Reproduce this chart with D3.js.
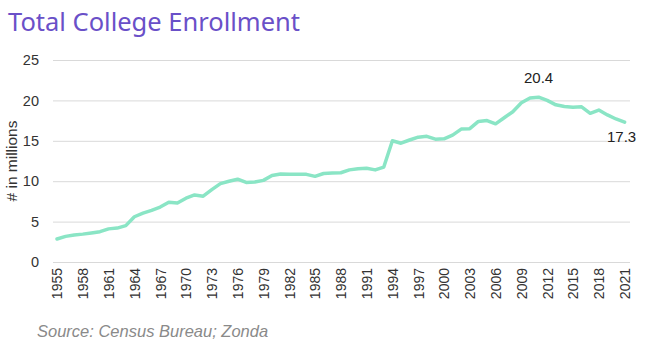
<!DOCTYPE html>
<html>
<head>
<meta charset="utf-8">
<script src="https://cdn.jsdelivr.net/npm/d3@7"></script>
<style>
  body { margin: 0; background: #fff; }
  svg text { font-family: "Liberation Sans", Arial, sans-serif; }
</style>
</head>
<body>
<div id="chart"></div>
<script>
const years = d3.range(1955, 2022);
const enrollment = [
  2.85, 3.17, 3.35, 3.45, 3.6, 3.75, 4.1, 4.2, 4.5, 5.6,
  6.05, 6.4, 6.8, 7.4, 7.3, 7.9, 8.3, 8.15, 8.95, 9.7,
  10.0, 10.25, 9.85, 9.9, 10.1, 10.7, 10.9, 10.85, 10.85, 10.85,
  10.6, 10.95, 11.0, 11.05, 11.4, 11.55, 11.6, 11.4, 11.75, 15.0,
  14.7, 15.1, 15.45, 15.55, 15.2, 15.25, 15.7, 16.45, 16.5, 17.4,
  17.5, 17.1, 17.85, 18.6, 19.7, 20.3, 20.4, 20.0, 19.45, 19.25,
  19.15, 19.2, 18.4, 18.8, 18.2, 17.7, 17.3
];
const xTickYears = [1955, 1958, 1961, 1964, 1967, 1970, 1973, 1976, 1979, 1982, 1985,
  1988, 1991, 1994, 1997, 2000, 2003, 2006, 2009, 2012, 2015, 2018, 2021];
const yTicks = [0, 5, 10, 15, 20, 25];
const callouts = [
  { year: 2011, label: "20.4", dx: 0, dy: -14 },
  { year: 2021, label: "17.3", dx: -3, dy: 20 }
];

const width = 653, height = 350;
const x = d3.scaleLinear().domain([1955, 2021]).range([57, 624.6]);
const y = d3.scaleLinear().domain([0, 25]).range([262, 60]);

const svg = d3.select("#chart").append("svg")
  .attr("width", width)
  .attr("height", height);

svg.append("text")
  .attr("x", 8)
  .attr("y", 31)
  .style("font-family", "'Noto Sans', sans-serif")
  .style("font-size", "25.5px")
  .style("fill", "#6a50c8")
  .text("Total College Enrollment");

// gridlines + y labels
const yAxis = d3.axisLeft(y).tickValues(yTicks).tickSize(-(630 - 53)).tickPadding(14);
svg.append("g")
  .attr("transform", "translate(53,0)")
  .call(yAxis)
  .call(g => g.select(".domain").remove())
  .call(g => g.selectAll(".tick line").attr("stroke", "#d9d9d9").attr("stroke-width", 1))
  .call(g => g.selectAll(".tick text")
    .style("font-size", "14.5px").style("fill", "#333"));

svg.append("text")
  .attr("transform", "translate(17,161) rotate(-90)")
  .attr("text-anchor", "middle")
  .style("font-size", "15.5px")
  .style("fill", "#333")
  .text("# in millions");

// x labels
const xAxis = d3.axisBottom(x).tickValues(xTickYears).tickSize(0).tickFormat(d3.format("d"));
svg.append("g")
  .attr("transform", "translate(0,262)")
  .call(xAxis)
  .call(g => g.select(".domain").remove())
  .call(g => g.selectAll(".tick text")
    .attr("transform", "rotate(-90)")
    .attr("text-anchor", "end")
    .attr("x", -6)
    .attr("y", 0)
    .attr("dy", "0.35em")
    .style("font-size", "14px")
    .style("fill", "#333"));

const line = d3.line()
  .x((d, i) => x(years[i]))
  .y(d => y(d));

svg.append("path")
  .datum(enrollment)
  .attr("d", line)
  .attr("fill", "none")
  .attr("stroke", "#8ae5c5")
  .attr("stroke-width", 3.5)
  .attr("stroke-linejoin", "round")
  .attr("stroke-linecap", "round");

svg.selectAll(".callout")
  .data(callouts)
  .enter()
  .append("text")
  .attr("class", "callout")
  .attr("x", d => x(d.year) + d.dx)
  .attr("y", d => y(enrollment[years.indexOf(d.year)]) + d.dy)
  .attr("text-anchor", "middle")
  .style("font-size", "15px")
  .style("fill", "#222")
  .text(d => d.label);

svg.append("text")
  .attr("x", 37)
  .attr("y", 337)
  .style("font-size", "16.5px")
  .style("font-style", "italic")
  .style("fill", "#8a8a8a")
  .text("Source: Census Bureau; Zonda");
</script>
</body>
</html>
